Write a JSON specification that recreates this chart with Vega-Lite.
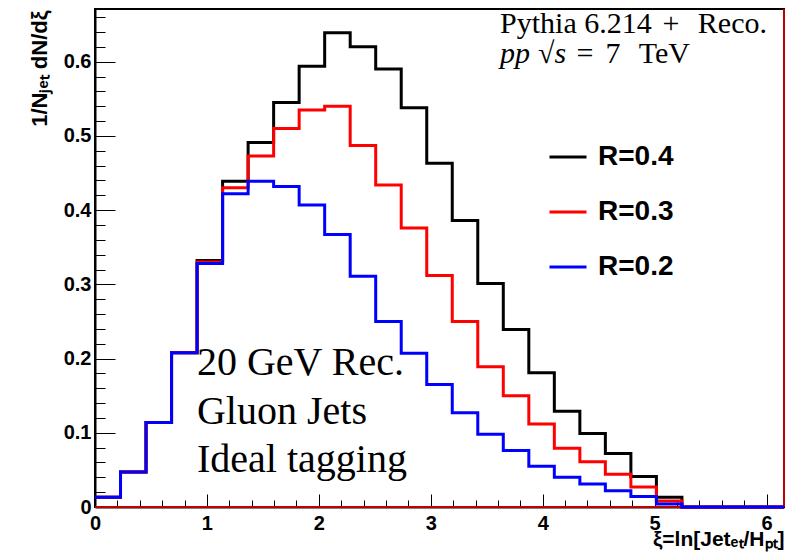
{
  "$schema": "https://vega.github.io/schema/vega-lite/v6.json",
  "width": 689,
  "height": 498,
  "autosize": {"type": "none"},
  "padding": {"left": 95, "top": 9, "right": 9, "bottom": 49},
  "background": "white",
  "config": {
    "view": {"stroke": "black", "strokeWidth": 2},
    "axis": {
      "grid": false, "domainColor": "black", "domainWidth": 2, "tickColor": "black", "tickWidth": 1, "offset": 0,
      "labelFont": "Liberation Sans", "labelFontWeight": "bold", "labelFontSize": 20, "labelColor": "black",
      "titleFont": "Liberation Sans", "titleFontWeight": "bold", "titleFontSize": 20, "titleColor": "black",
      "labelFlush": false, "labelOverlap": false, "labelBound": false
    },
    "text": {"font": "Liberation Serif", "color": "black"}
  },
  "datasets": {
    "one": [{}],
    "hist": [
      {"xi": 0, "v": 0.013, "R": "R=0.4"}, {"xi": 0.228, "v": 0.047, "R": "R=0.4"}, {"xi": 0.456, "v": 0.114, "R": "R=0.4"},
      {"xi": 0.684, "v": 0.208, "R": "R=0.4"}, {"xi": 0.912, "v": 0.332, "R": "R=0.4"}, {"xi": 1.14, "v": 0.439, "R": "R=0.4"},
      {"xi": 1.368, "v": 0.491, "R": "R=0.4"}, {"xi": 1.596, "v": 0.545, "R": "R=0.4"}, {"xi": 1.824, "v": 0.594, "R": "R=0.4"},
      {"xi": 2.052, "v": 0.639, "R": "R=0.4"}, {"xi": 2.28, "v": 0.62, "R": "R=0.4"}, {"xi": 2.508, "v": 0.59, "R": "R=0.4"},
      {"xi": 2.736, "v": 0.538, "R": "R=0.4"}, {"xi": 2.964, "v": 0.463, "R": "R=0.4"}, {"xi": 3.192, "v": 0.386, "R": "R=0.4"},
      {"xi": 3.42, "v": 0.301, "R": "R=0.4"}, {"xi": 3.648, "v": 0.239, "R": "R=0.4"}, {"xi": 3.876, "v": 0.181, "R": "R=0.4"},
      {"xi": 4.104, "v": 0.129, "R": "R=0.4"}, {"xi": 4.332, "v": 0.099, "R": "R=0.4"}, {"xi": 4.56, "v": 0.072, "R": "R=0.4"},
      {"xi": 4.788, "v": 0.041, "R": "R=0.4"}, {"xi": 5.016, "v": 0.013, "R": "R=0.4"}, {"xi": 5.244, "v": 0, "R": "R=0.4"},
      {"xi": 5.472, "v": 0, "R": "R=0.4"}, {"xi": 5.7, "v": 0, "R": "R=0.4"}, {"xi": 5.928, "v": 0, "R": "R=0.4"},
      {"xi": 6.156, "v": 0, "R": "R=0.4"},
      {"xi": 0, "v": 0.013, "R": "R=0.3"}, {"xi": 0.228, "v": 0.047, "R": "R=0.3"}, {"xi": 0.456, "v": 0.114, "R": "R=0.3"},
      {"xi": 0.684, "v": 0.208, "R": "R=0.3"}, {"xi": 0.912, "v": 0.33, "R": "R=0.3"}, {"xi": 1.14, "v": 0.43, "R": "R=0.3"},
      {"xi": 1.368, "v": 0.473, "R": "R=0.3"}, {"xi": 1.596, "v": 0.51, "R": "R=0.3"}, {"xi": 1.824, "v": 0.535, "R": "R=0.3"},
      {"xi": 2.052, "v": 0.54, "R": "R=0.3"}, {"xi": 2.28, "v": 0.487, "R": "R=0.3"}, {"xi": 2.508, "v": 0.434, "R": "R=0.3"},
      {"xi": 2.736, "v": 0.376, "R": "R=0.3"}, {"xi": 2.964, "v": 0.312, "R": "R=0.3"}, {"xi": 3.192, "v": 0.25, "R": "R=0.3"},
      {"xi": 3.42, "v": 0.189, "R": "R=0.3"}, {"xi": 3.648, "v": 0.15, "R": "R=0.3"}, {"xi": 3.876, "v": 0.112, "R": "R=0.3"},
      {"xi": 4.104, "v": 0.079, "R": "R=0.3"}, {"xi": 4.332, "v": 0.061, "R": "R=0.3"}, {"xi": 4.56, "v": 0.044, "R": "R=0.3"},
      {"xi": 4.788, "v": 0.027, "R": "R=0.3"}, {"xi": 5.016, "v": 0.008, "R": "R=0.3"}, {"xi": 5.244, "v": 0, "R": "R=0.3"},
      {"xi": 5.472, "v": 0, "R": "R=0.3"}, {"xi": 5.7, "v": 0, "R": "R=0.3"}, {"xi": 5.928, "v": 0, "R": "R=0.3"},
      {"xi": 6.156, "v": 0, "R": "R=0.3"},
      {"xi": 0, "v": 0.013, "R": "R=0.2"}, {"xi": 0.228, "v": 0.047, "R": "R=0.2"}, {"xi": 0.456, "v": 0.114, "R": "R=0.2"},
      {"xi": 0.684, "v": 0.208, "R": "R=0.2"}, {"xi": 0.912, "v": 0.328, "R": "R=0.2"}, {"xi": 1.14, "v": 0.422, "R": "R=0.2"},
      {"xi": 1.368, "v": 0.439, "R": "R=0.2"}, {"xi": 1.596, "v": 0.432, "R": "R=0.2"}, {"xi": 1.824, "v": 0.407, "R": "R=0.2"},
      {"xi": 2.052, "v": 0.367, "R": "R=0.2"}, {"xi": 2.28, "v": 0.311, "R": "R=0.2"}, {"xi": 2.508, "v": 0.25, "R": "R=0.2"},
      {"xi": 2.736, "v": 0.207, "R": "R=0.2"}, {"xi": 2.964, "v": 0.165, "R": "R=0.2"}, {"xi": 3.192, "v": 0.127, "R": "R=0.2"},
      {"xi": 3.42, "v": 0.098, "R": "R=0.2"}, {"xi": 3.648, "v": 0.076, "R": "R=0.2"}, {"xi": 3.876, "v": 0.055, "R": "R=0.2"},
      {"xi": 4.104, "v": 0.04, "R": "R=0.2"}, {"xi": 4.332, "v": 0.031, "R": "R=0.2"}, {"xi": 4.56, "v": 0.022, "R": "R=0.2"},
      {"xi": 4.788, "v": 0.014, "R": "R=0.2"}, {"xi": 5.016, "v": 0.004, "R": "R=0.2"}, {"xi": 5.244, "v": 0, "R": "R=0.2"},
      {"xi": 5.472, "v": 0, "R": "R=0.2"}, {"xi": 5.7, "v": 0, "R": "R=0.2"}, {"xi": 5.928, "v": 0, "R": "R=0.2"},
      {"xi": 6.156, "v": 0, "R": "R=0.2"}
    ]
  },
  "layer": [
    {
      "data": {"name": "one"},
      "mark": {"type": "rule", "color": "#ff0000", "strokeWidth": 1.5},
      "encoding": {
        "y": {"datum": 0, "type": "quantitative",
          "axis": {"orient": "left", "offset": 0, "values": [0.02,0.04,0.06,0.08,0.12,0.14,0.16,0.18,0.22,0.24,0.26,0.28,0.32,0.34,0.36,0.38,0.42,0.44,0.46,0.48,0.52,0.54,0.56,0.58,0.62,0.64,0.66],
            "tickSize": -10, "labels": false, "domain": false, "title": null}}
      }
    },
    {
      "data": {"name": "one"},
      "mark": {"type": "rule", "color": "#ff0000", "strokeWidth": 1.5},
      "encoding": {
        "x": {"datum": 6.156, "type": "quantitative",
          "axis": {"orient": "bottom", "offset": 0, "values": [0.2,0.4,0.6,0.8,1.2,1.4,1.6,1.8,2.2,2.4,2.6,2.8,3.2,3.4,3.6,3.8,4.2,4.4,4.6,4.8,5.2,5.4,5.6,5.8],
            "tickSize": -7, "labels": false, "domain": false, "title": null}}
      }
    },
    {
      "data": {"name": "hist"},
      "mark": {"type": "line", "interpolate": "step-after", "strokeWidth": 3},
      "encoding": {
        "x": {"field": "xi", "type": "quantitative",
          "scale": {"domain": [0, 6.156], "nice": false, "zero": false},
          "axis": {"orient": "bottom", "offset": 0, "values": [0,1,2,3,4,5,6], "tickSize": -13, "labelPadding": 19, "format": "d",
            "title": "ξ=ln[Jetₑₜ/Hₚₜ]", "titleFontSize": 21, "titleAnchor": "end", "titleAlign": "right", "titleX": 689, "titleY": 38, "titleBaseline": "alphabetic"}},
        "y": {"field": "v", "type": "quantitative",
          "scale": {"domain": [0, 0.671], "nice": false},
          "axis": {"orient": "left", "offset": 0, "values": [0,0.1,0.2,0.3,0.4,0.5,0.6], "tickSize": -20, "labelPadding": 24,
            "labelExpr": "datum.value == 0 ? '0' : format(datum.value, '.1f')",
            "title": "1/Nⱼₑₜ dN/dξ", "titleFontSize": 22, "titleAnchor": "end", "titleAlign": "right", "titleX": -49, "titleY": 1, "titleBaseline": "alphabetic", "titleAngle": -90}},
        "color": {"field": "R", "type": "nominal",
          "scale": {"domain": ["R=0.4", "R=0.3", "R=0.2"], "range": ["#000000", "#ff0000", "#0000ff"]},
          "legend": {"orient": "none", "legendX": 453, "legendY": 128, "title": null, "symbolType": "stroke", "symbolSize": 1369,
            "symbolStrokeWidth": 3, "labelFont": "Liberation Sans", "labelFontWeight": "bold", "labelFontSize": 28, "labelColor": "black",
            "labelOffset": 10, "rowPadding": 21, "labelLimit": 0, "padding": 0}}
      }
    },
    {
      "data": {"name": "one"},
      "mark": {"type": "text", "text": ["20 GeV Rec.", "Gluon Jets", "Ideal tagging"], "font": "Liberation Serif", "fontSize": 40, "align": "left", "baseline": "alphabetic", "lineHeight": 48.5},
      "encoding": {"x": {"datum": 0.911, "type": "quantitative", "axis": null}, "y": {"datum": 0.1778, "type": "quantitative", "axis": null}}
    },
    {
      "data": {"name": "one"},
      "mark": {"type": "text", "text": "Pythia 6.214", "fontSize": 30, "align": "left", "baseline": "alphabetic"},
      "encoding": {"x": {"datum": 3.619, "type": "quantitative", "axis": null}, "y": {"datum": 0.6387, "type": "quantitative", "axis": null}}
    },
    {
      "data": {"name": "one"},
      "mark": {"type": "text", "text": "+", "fontSize": 30, "align": "center", "baseline": "alphabetic"},
      "encoding": {"x": {"datum": 5.147, "type": "quantitative", "axis": null}, "y": {"datum": 0.6387, "type": "quantitative", "axis": null}}
    },
    {
      "data": {"name": "one"},
      "mark": {"type": "text", "text": "Reco.", "fontSize": 30, "align": "right", "baseline": "alphabetic"},
      "encoding": {"x": {"datum": 6.004, "type": "quantitative", "axis": null}, "y": {"datum": 0.6387, "type": "quantitative", "axis": null}}
    },
    {
      "data": {"name": "one"},
      "mark": {"type": "text", "text": "pp", "fontSize": 30, "fontStyle": "italic", "align": "left", "baseline": "alphabetic"},
      "encoding": {"x": {"datum": 3.619, "type": "quantitative", "axis": null}, "y": {"datum": 0.5982, "type": "quantitative", "axis": null}}
    },
    {
      "data": {"name": "one"},
      "mark": {"type": "text", "text": "√s", "fontSize": 30, "fontStyle": "italic", "align": "left", "baseline": "alphabetic"},
      "encoding": {"x": {"datum": 3.958, "type": "quantitative", "axis": null}, "y": {"datum": 0.5982, "type": "quantitative", "axis": null}}
    },
    {
      "data": {"name": "one"},
      "mark": {"type": "text", "text": "=", "fontSize": 30, "align": "center", "baseline": "alphabetic"},
      "encoding": {"x": {"datum": 4.378, "type": "quantitative", "axis": null}, "y": {"datum": 0.5982, "type": "quantitative", "axis": null}}
    },
    {
      "data": {"name": "one"},
      "mark": {"type": "text", "text": "7", "fontSize": 30, "align": "center", "baseline": "alphabetic"},
      "encoding": {"x": {"datum": 4.628, "type": "quantitative", "axis": null}, "y": {"datum": 0.5982, "type": "quantitative", "axis": null}}
    },
    {
      "data": {"name": "one"},
      "mark": {"type": "text", "text": "TeV", "fontSize": 30, "align": "right", "baseline": "alphabetic"},
      "encoding": {"x": {"datum": 5.316, "type": "quantitative", "axis": null}, "y": {"datum": 0.5982, "type": "quantitative", "axis": null}}
    }
  ],
  "resolve": {"axis": {"x": "independent", "y": "independent"}}
}
